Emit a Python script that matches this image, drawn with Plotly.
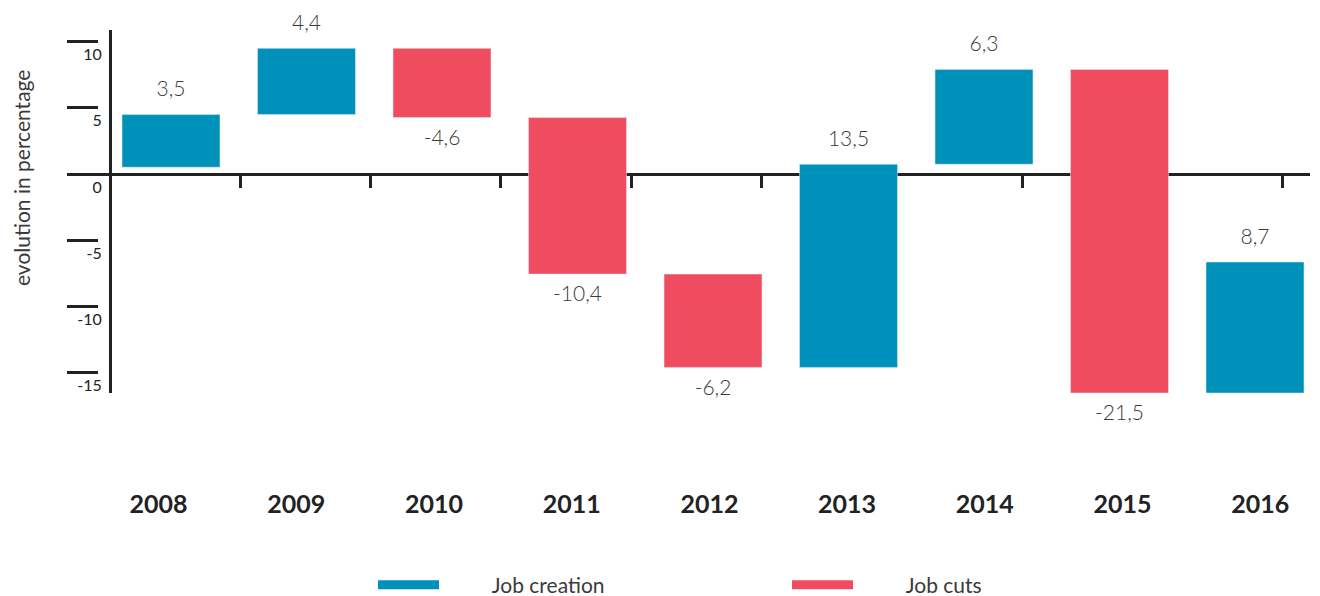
import plotly.graph_objects as go

# ---------------- data ----------------
years = ["2008", "2009", "2010", "2011", "2012", "2013", "2014", "2015", "2016"]
changes = [3.5, 4.4, -4.6, -10.4, -6.2, 13.5, 6.3, -21.5, 8.7]
start_level = 0.45           # level where the first floating bar starts
axis_tick_values = [10, 5, 0, -5, -10, -15]
axis_tick_labels = ["10", "5", "0", "-5", "-10", "-15"]
series_names = ["Job creation", "Job cuts"]

BLUE = "#0091BB"
RED = "#F04C5F"
DARK = "#222222"
TEXT = "#3a3a3a"
FONT = "Lato"

# floating-bar bases (cumulative level before each change)
bases = []
lvl = start_level
for v in changes:
    bases.append(lvl)
    lvl += v

def fmt(v):
    return f"{v:.1f}".replace(".", ",")

pos_x = [y for y, v in zip(years, changes) if v > 0]
pos_y = [v for v in changes if v > 0]
pos_b = [b for b, v in zip(bases, changes) if v > 0]
neg_x = [y for y, v in zip(years, changes) if v < 0]
neg_y = [v for v in changes if v < 0]
neg_b = [b for b, v in zip(bases, changes) if v < 0]

fig = go.Figure()

fig.add_trace(go.Bar(x=pos_x, y=pos_y, base=pos_b, marker_color=BLUE,
                     width=0.723, showlegend=False, name=series_names[0]))
fig.add_trace(go.Bar(x=neg_x, y=neg_y, base=neg_b, marker_color=RED,
                     width=0.723, showlegend=False, name=series_names[1]))

# value labels
fig.add_trace(go.Scatter(
    x=pos_x, y=[b + v for b, v in zip(pos_b, pos_y)], mode="markers+text",
    text=[fmt(v) for v in pos_y], textposition="top center",
    marker=dict(size=19, color="rgba(0,0,0,0)"),
    textfont=dict(family=FONT, size=21, color=TEXT, weight=300),
    showlegend=False, cliponaxis=False, hoverinfo="skip"))
fig.add_trace(go.Scatter(
    x=neg_x, y=[b + v for b, v in zip(neg_b, neg_y)], mode="markers+text",
    text=[fmt(v) for v in neg_y], textposition="bottom center",
    marker=dict(size=17, color="rgba(0,0,0,0)"),
    textfont=dict(family=FONT, size=21, color=TEXT, weight=300),
    showlegend=False, cliponaxis=False, hoverinfo="skip"))

# legend entries
GAP = "\u00a0" * 9
fig.add_trace(go.Scatter(x=[None], y=[None], mode="lines", name=GAP + series_names[0],
                         line=dict(color=BLUE, width=9)))
fig.add_trace(go.Scatter(x=[None], y=[None], mode="lines", name=GAP + series_names[1],
                         line=dict(color=RED, width=9)))

# dummy traces for decorative overlay axes
fig.add_trace(go.Scatter(x=[None], y=[None], xaxis="x2", yaxis="y2",
                         showlegend=False, hoverinfo="skip"))
fig.add_trace(go.Scatter(x=years, y=[None] * len(years), xaxis="x3", yaxis="y",
                         showlegend=False, hoverinfo="skip"))

W, H = 1320, 596
L, R, T, B = 67, 10, 30, 203
pw, ph = W - L - R, H - T - B
zero_px = 174

def xfrac(px):
    return (px - L) / pw

def yfrac(py):
    return (T + ph - py) / ph

bar_scale = 15.05   # px per unit for bars
cat0, cat_step = 171, 135.5
lab0, lab_step = 158.6, 137.7
tick_scale = 13.24  # px per unit of printed axis

fig.update_layout(
    width=W, height=H,
    margin=dict(l=L, r=R, t=T, b=B, pad=0, autoexpand=False),
    paper_bgcolor="white", plot_bgcolor="white",
    barmode="overlay",
    font=dict(family=FONT, color=DARK),
    xaxis=dict(
        type="category", categoryorder="array", categoryarray=years,
        range=[(L - cat0) / cat_step, (L + pw - cat0) / cat_step],
        showline=False, showgrid=False, zeroline=False, ticks="",
        showticklabels=False, anchor="y", automargin=False,
    ),
    xaxis3=dict(
        type="category", categoryorder="array", categoryarray=years,
        overlaying="x", anchor="y", side="bottom",
        range=[(L - lab0) / lab_step, (L + pw - lab0) / lab_step],
        showline=False, showgrid=False, zeroline=False, ticks="",
        tickfont=dict(family=FONT, size=25, color=DARK, weight="bold"),
        ticklabelstandoff=94, automargin=False,
    ),
    yaxis=dict(
        range=[-(T + ph - zero_px) / bar_scale, (zero_px - T) / bar_scale],
        anchor="free", position=xfrac(110), automargin=False,
        showline=True, linewidth=3, linecolor=DARK,
        zeroline=True, zerolinewidth=3, zerolinecolor=DARK,
        showgrid=False, showticklabels=False, ticks="",
    ),
    xaxis2=dict(
        overlaying="x", anchor="free", position=yfrac(zero_px), side="bottom",
        range=[(L - 110) / 130.3, (L + pw - 110) / 130.3],
        tickvals=list(range(1, 10)), ticks="outside", ticklen=13, tickwidth=3,
        tickcolor=DARK, showticklabels=False, showline=False, showgrid=False,
        zeroline=False, layer="below traces", automargin=False,
    ),
    yaxis2=dict(
        overlaying="y", anchor="free", position=xfrac(98), side="left",
        range=[-(T + ph - zero_px) / tick_scale, (zero_px - T) / tick_scale],
        tickvals=axis_tick_values, ticktext=axis_tick_labels,
        ticks="outside", ticklen=31, tickwidth=3, tickcolor=DARK,
        tickfont=dict(family=FONT, size=16, color=DARK),
        ticklabelstandoff=-38, ticklabelshift=13,
        showline=False, showgrid=False, zeroline=False, layer="below traces",
        automargin=False,
    ),
    legend=dict(
        orientation="h", xref="container", yref="container",
        x=373 / W, xanchor="left",
        y=(H - 585) / H, yanchor="middle",
        font=dict(family=FONT, size=21, color=TEXT),
        itemwidth=61, entrywidth=338, entrywidthmode="pixels",
        bgcolor="rgba(0,0,0,0)",
    ),
    annotations=[dict(
        text="evolution in percentage", textangle=-90,
        xref="paper", yref="paper", x=xfrac(21), y=yfrac(178),
        xanchor="center", yanchor="middle", showarrow=False,
        font=dict(family=FONT, size=21, color=TEXT),
    )],
)

fig.write_html("out.html", config={"displayModeBar": False},
               post_script="document.body.style.margin='0px';document.body.style.overflow='hidden';")
